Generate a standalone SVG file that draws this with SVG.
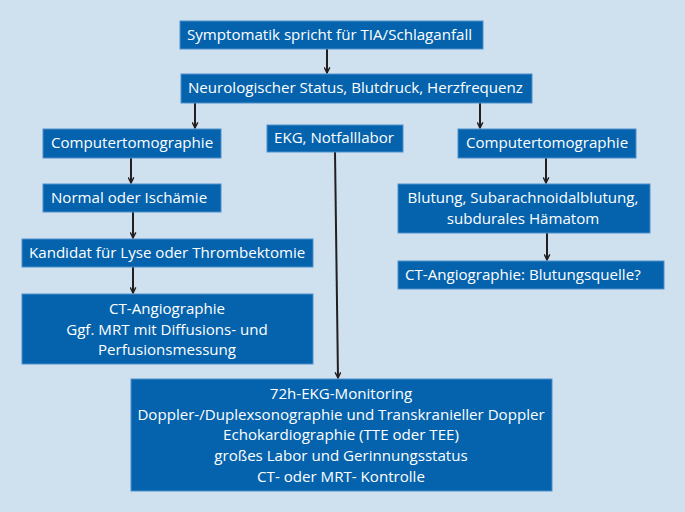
<svg xmlns="http://www.w3.org/2000/svg" width="685" height="512" viewBox="0 0 685 512">
<defs>
<style>
.box{fill:#0563ad;stroke:#4f8fcb;stroke-width:1}
.t{font-family:"Open Sans","Liberation Sans",sans-serif;font-size:15.1px;fill:#ffffff}
.c{text-anchor:middle}
.ln{stroke:#231f20;stroke-width:2;fill:none}
</style>
<marker id="ah" viewBox="0 0 10 10" refX="9" refY="5" markerWidth="7" markerHeight="7" orient="auto" markerUnits="userSpaceOnUse">
<path d="M1,1 L9,5 L1,9" fill="none" stroke="#231f20" stroke-width="2"/>
</marker>
</defs>
<rect width="685" height="512" fill="#cfe0ee"/>
<g id="connectors">
<line class="ln" x1="327" y1="49" x2="327" y2="73" marker-end="url(#ah)"/>
<line class="ln" x1="195" y1="103" x2="195" y2="128" marker-end="url(#ah)"/>
<line class="ln" x1="480" y1="103" x2="480" y2="128" marker-end="url(#ah)"/>
<line class="ln" x1="131" y1="158" x2="131" y2="183" marker-end="url(#ah)"/>
<line class="ln" x1="133" y1="212" x2="133" y2="238" marker-end="url(#ah)"/>
<line class="ln" x1="133" y1="267" x2="133" y2="293" marker-end="url(#ah)"/>
<line class="ln" x1="335" y1="152" x2="338" y2="378" marker-end="url(#ah)"/>
<line class="ln" x1="546" y1="158" x2="546" y2="183" marker-end="url(#ah)"/>
<line class="ln" x1="547" y1="233" x2="547" y2="260" marker-end="url(#ah)"/>
</g>
<g id="n1"><rect class="box" x="180" y="21" width="303" height="28"/><text class="t" x="187" y="40">Symptomatik spricht für TIA/Schlaganfall</text></g>
<g id="n2"><rect class="box" x="181" y="74" width="351" height="29"/><text class="t" x="188" y="93">Neurologischer Status, Blutdruck, Herzfrequenz</text></g>
<g id="n3"><rect class="box" x="43" y="129" width="178" height="29"/><text class="t" x="51" y="148">Computertomographie</text></g>
<g id="n4"><rect class="box" x="267" y="125" width="136" height="27"/><text class="t" x="274" y="143">EKG, Notfalllabor</text></g>
<g id="n5"><rect class="box" x="458" y="129" width="178" height="29"/><text class="t" x="466" y="148">Computertomographie</text></g>
<g id="n6"><rect class="box" x="43" y="184" width="178" height="28"/><text class="t" x="51" y="203">Normal oder Ischämie</text></g>
<g id="n7"><rect class="box" x="22" y="239" width="291" height="28"/><text class="t" x="29" y="258">Kandidat für Lyse oder Thrombektomie</text></g>
<g id="n8"><rect class="box" x="22" y="294" width="291" height="70"/><text class="t c" x="167" y="314">CT-Angiographie</text><text class="t c" x="167" y="335">Ggf. MRT mit Diffusions- und</text><text class="t c" x="167" y="355">Perfusionsmessung</text></g>
<g id="n9"><rect class="box" x="398" y="184" width="252" height="49"/><text class="t c" x="523" y="203">Blutung, Subarachnoidalblutung,</text><text class="t c" x="523" y="224">subdurales Hämatom</text></g>
<g id="n10"><rect class="box" x="398" y="261" width="266" height="28"/><text class="t" x="405" y="280">CT-Angiographie: Blutungsquelle?</text></g>
<g id="n11"><rect class="box" x="131" y="379" width="421" height="112"/>
<text class="t c" x="341" y="399">72h-EKG-Monitoring</text>
<text class="t c" x="341" y="420">Doppler-/Duplexsonographie und Transkranieller Doppler</text>
<text class="t c" x="341" y="440">Echokardiographie (TTE oder TEE)</text>
<text class="t c" x="341" y="461">großes Labor und Gerinnungsstatus</text>
<text class="t c" x="341" y="482">CT- oder MRT- Kontrolle</text>
</g>
</svg>
